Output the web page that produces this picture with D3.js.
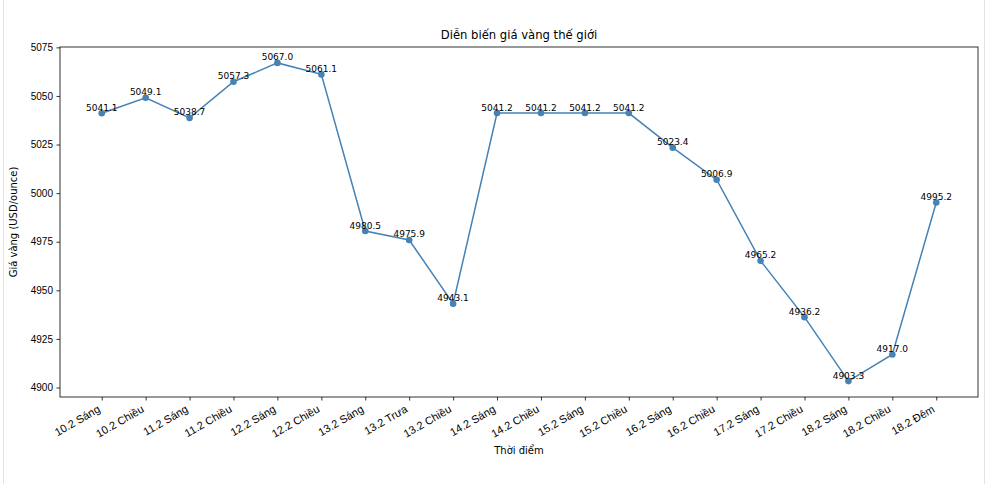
<!DOCTYPE html>
<html><head><meta charset="utf-8">
<script src="https://cdn.jsdelivr.net/npm/d3@7"></script>
<style>
html,body{margin:0;padding:0;background:#fff;}
svg{display:block;font-family:"DejaVu Sans",sans-serif;}
</style></head>
<body>
<svg id="c" width="988" height="484"></svg>
<script>
const categories = ["10.2 Sáng","10.2 Chiều","11.2 Sáng","11.2 Chiều","12.2 Sáng","12.2 Chiều","13.2 Sáng","13.2 Trưa","13.2 Chiều","14.2 Sáng","14.2 Chiều","15.2 Sáng","15.2 Chiều","16.2 Sáng","16.2 Chiều","17.2 Sáng","17.2 Chiều","18.2 Sáng","18.2 Chiều","18.2 Đêm"];
const prices = [5041.1,5049.1,5038.7,5057.3,5067.0,5061.1,4980.5,4975.9,4943.1,5041.2,5041.2,5041.2,5041.2,5023.4,5006.9,4965.2,4936.2,4903.3,4917.0,4995.2];
const yTicks = [4900,4925,4950,4975,5000,5025,5050,5075];
const titleText = "Diễn biến giá vàng thế giới";
const xLabel = "Thời điểm";
const yLabel = "Giá vàng (USD/ounce)";

const svg = d3.select("#c");
const W = 988, H = 484;
const m = {l:60, r:10, t:47, b:87};
const pw = 978 - m.l, ph = 397 - m.t;

// page frame
svg.append("rect").attr("x",3.5).attr("y",-2).attr("width",981).attr("height",H+4)
  .attr("fill","none").attr("stroke","#e3e3e3").attr("stroke-width",1);

const n = categories.length;
const x = d3.scaleLinear().domain([-0.05*(n-1), (n-1)*1.05]).range([m.l, m.l+pw]);
const ymin = d3.min(prices), ymax = d3.max(prices), pad = (ymax-ymin)*0.05;
const y = d3.scaleLinear().domain([ymin-pad, ymax+pad]).range([m.t+ph, m.t]);

const g = svg.append("g");

// axes
const xAxis = d3.axisBottom(x).tickValues(d3.range(n)).tickFormat(i=>categories[i]).tickSize(3.5).tickPadding(3);
const gx = g.append("g").attr("transform",`translate(0,${m.t+ph})`).call(xAxis);
gx.select(".domain").remove();
gx.selectAll("line").attr("stroke","#000").attr("stroke-width",0.8);
gx.selectAll("text").attr("font-size",11).attr("fill","#000")
  .attr("text-anchor","end").attr("dy",null).attr("x",0).attr("y",0)
  .attr("transform","translate(-1.3,14.3) rotate(-30)");

const yAxis = d3.axisLeft(y).tickValues(yTicks).tickFormat(d3.format("d")).tickSize(3.5).tickPadding(3.5);
const gy = g.append("g").attr("transform",`translate(${m.l},0)`).call(yAxis);
gy.select(".domain").remove();
gy.selectAll("line").attr("stroke","#000").attr("stroke-width",0.8);
gy.selectAll("text").attr("font-size",10).attr("fill","#000");

// frame
g.append("rect").attr("x",m.l).attr("y",m.t).attr("width",pw).attr("height",ph)
  .attr("fill","none").attr("stroke","#000").attr("stroke-width",0.8);

// line
const line = d3.line().x((d,i)=>x(i)).y(d=>y(d));
g.append("path").datum(prices).attr("d",line).attr("fill","none")
  .attr("stroke","#4682b4").attr("stroke-width",1.5);
g.selectAll("circle.pt").data(prices).join("circle").attr("class","pt")
  .attr("cx",(d,i)=>x(i)).attr("cy",d=>y(d)).attr("r",3.3).attr("fill","#4682b4");

// data labels
g.selectAll("text.lbl").data(prices).join("text").attr("class","lbl")
  .attr("x",(d,i)=>x(i)).attr("y",d=>y(d)-2.5).attr("text-anchor","middle")
  .attr("font-size",9).attr("fill","#000").text(d=>d.toFixed(1));

// titles
svg.append("text").attr("x",m.l+pw/2).attr("y",m.t-8.5).attr("text-anchor","middle")
  .attr("font-size",11.6).attr("fill","#000").text(titleText);
svg.append("text").attr("x",m.l+pw/2).attr("y",454).attr("text-anchor","middle")
  .attr("font-size",10).attr("fill","#000").text(xLabel);
svg.append("text").attr("transform",`translate(17,${m.t+ph/2}) rotate(-90)`).attr("text-anchor","middle")
  .attr("font-size",10).attr("fill","#000").text(yLabel);
</script>
</body></html>
